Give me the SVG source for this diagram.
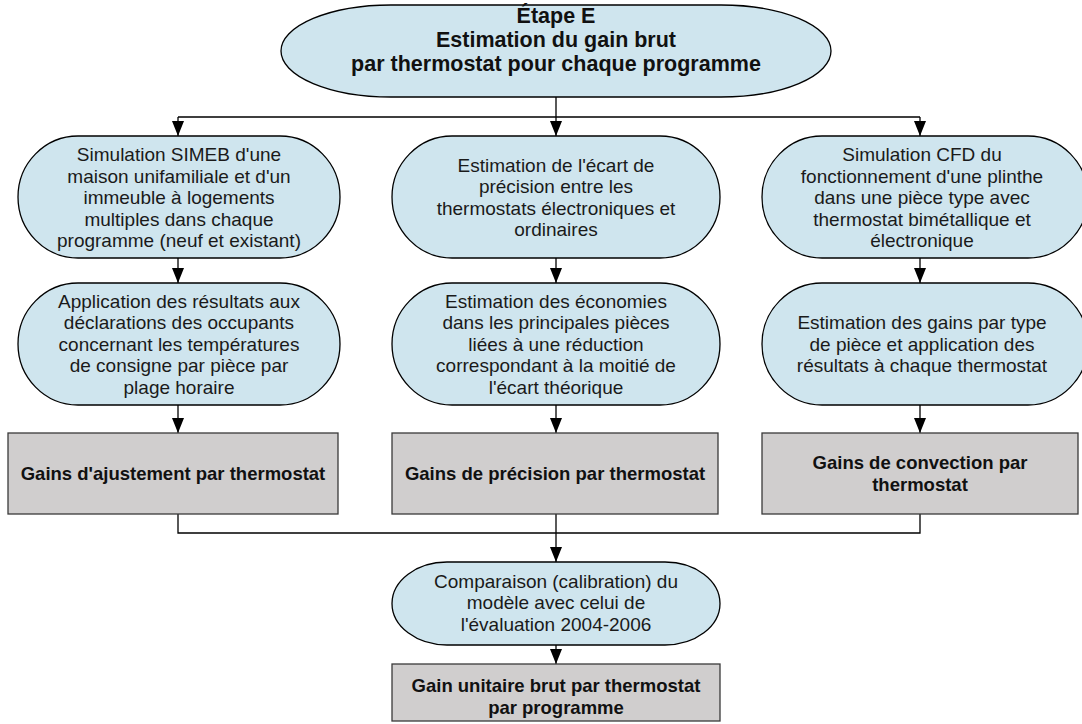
<svg xmlns="http://www.w3.org/2000/svg" width="1082" height="724" viewBox="0 0 1082 724">
<defs>
<marker id="arr" markerUnits="userSpaceOnUse" markerWidth="16" markerHeight="12" refX="15" refY="6" orient="auto" viewBox="0 0 16 12">
<path d="M0,0 L15,6 L0,12 Z" fill="#000"/>
</marker>
<style>
.st{fill:#cfe5ee;stroke:#000;stroke-width:1.3}
.gr{fill:#d0cece;stroke:#3a3a3a;stroke-width:1.3}
.t{font-family:"Liberation Sans",Arial,sans-serif;font-size:19px;fill:#1a1a1a;text-anchor:middle}
.b{font-family:"Liberation Sans",Arial,sans-serif;font-size:18.5px;font-weight:bold;fill:#111;text-anchor:middle}
.h{font-family:"Liberation Sans",Arial,sans-serif;font-size:21.5px;font-weight:bold;fill:#111;text-anchor:middle}
.c{fill:none;stroke:#000;stroke-width:1.3}
</style>
</defs>
<rect width="1082" height="724" fill="#fff"/>
<g id="connectors">
<path class="c" d="M556,97 V117 M178,117 H920 M178,514 V533 H920 V514"/>
<path class="c" d="M178,117 V136" marker-end="url(#arr)"/>
<path class="c" d="M556,117 V136" marker-end="url(#arr)"/>
<path class="c" d="M920,117 V136" marker-end="url(#arr)"/>
<path class="c" d="M178,258 V283" marker-end="url(#arr)"/>
<path class="c" d="M556,258 V283" marker-end="url(#arr)"/>
<path class="c" d="M920,258 V283" marker-end="url(#arr)"/>
<path class="c" d="M178,405 V433" marker-end="url(#arr)"/>
<path class="c" d="M556,405 V433" marker-end="url(#arr)"/>
<path class="c" d="M920,405 V433" marker-end="url(#arr)"/>
<path class="c" d="M556,514 V562" marker-end="url(#arr)"/>
<path class="c" d="M556,645 V664" marker-end="url(#arr)"/>
</g>
<g id="title">
<rect class="st" x="281" y="5" width="550" height="92" rx="110" ry="46"/>
<text class="h" x="556" y="23">Étape E</text>
<text class="h" x="556" y="47">Estimation du gain brut</text>
<text class="h" x="556" y="71">par thermostat pour chaque programme</text>
</g>
<g id="n1">
<rect class="st" x="18" y="136" width="322" height="122" rx="60" ry="61"/>
<text class="t" x="179" y="161">Simulation SIMEB d'une</text>
<text class="t" x="179" y="182.5">maison unifamiliale et d'un</text>
<text class="t" x="179" y="204">immeuble à logements</text>
<text class="t" x="179" y="225.5">multiples dans chaque</text>
<text class="t" x="179" y="247">programme (neuf et existant)</text>
</g>
<g id="n2">
<rect class="st" x="392" y="136" width="328" height="122" rx="60" ry="61"/>
<text class="t" x="556" y="171.5">Estimation de l'écart de</text>
<text class="t" x="556" y="193">précision entre les</text>
<text class="t" x="556" y="214.5">thermostats électroniques et</text>
<text class="t" x="556" y="236">ordinaires</text>
</g>
<g id="n3">
<rect class="st" x="762" y="136" width="326" height="122" rx="60" ry="61"/>
<text class="t" x="922" y="161">Simulation CFD du</text>
<text class="t" x="922" y="182.5">fonctionnement d'une plinthe</text>
<text class="t" x="922" y="204">dans une pièce type avec</text>
<text class="t" x="922" y="225.5">thermostat bimétallique et</text>
<text class="t" x="922" y="247">électronique</text>
</g>
<g id="n4">
<rect class="st" x="18" y="283" width="322" height="122" rx="60" ry="61"/>
<text class="t" x="179" y="307.5">Application des résultats aux</text>
<text class="t" x="179" y="329">déclarations des occupants</text>
<text class="t" x="179" y="350.5">concernant les températures</text>
<text class="t" x="179" y="372">de consigne par pièce par</text>
<text class="t" x="179" y="393.5">plage horaire</text>
</g>
<g id="n5">
<rect class="st" x="392" y="283" width="328" height="122" rx="60" ry="61"/>
<text class="t" x="556" y="307.5">Estimation des économies</text>
<text class="t" x="556" y="329">dans les principales pièces</text>
<text class="t" x="556" y="350.5">liées à une réduction</text>
<text class="t" x="556" y="372">correspondant à la moitié de</text>
<text class="t" x="556" y="393.5">l'écart théorique</text>
</g>
<g id="n6">
<rect class="st" x="762" y="283" width="326" height="122" rx="60" ry="61"/>
<text class="t" x="922" y="329">Estimation des gains par type</text>
<text class="t" x="922" y="350.5">de pièce et application des</text>
<text class="t" x="922" y="372">résultats à chaque thermostat</text>
</g>
<g id="g1">
<rect class="gr" x="8" y="433" width="330" height="81"/>
<text class="b" x="173" y="479.5">Gains d'ajustement par thermostat</text>
</g>
<g id="g2">
<rect class="gr" x="392" y="433" width="326" height="81"/>
<text class="b" x="555" y="479.5">Gains de précision par thermostat</text>
</g>
<g id="g3">
<rect class="gr" x="762" y="433" width="316" height="81"/>
<text class="b" x="920" y="468.5">Gains de convection par</text>
<text class="b" x="920" y="490.5">thermostat</text>
</g>
<g id="n7">
<rect class="st" x="392" y="562" width="328" height="83" rx="55" ry="41.5"/>
<text class="t" x="556" y="587.5">Comparaison (calibration) du</text>
<text class="t" x="556" y="609">modèle avec celui de</text>
<text class="t" x="556" y="630.5">l'évaluation 2004-2006</text>
</g>
<g id="g4">
<rect class="gr" x="392" y="664" width="328" height="57"/>
<text class="b" x="556" y="692">Gain unitaire brut par thermostat</text>
<text class="b" x="556" y="714">par programme</text>
</g>
</svg>
